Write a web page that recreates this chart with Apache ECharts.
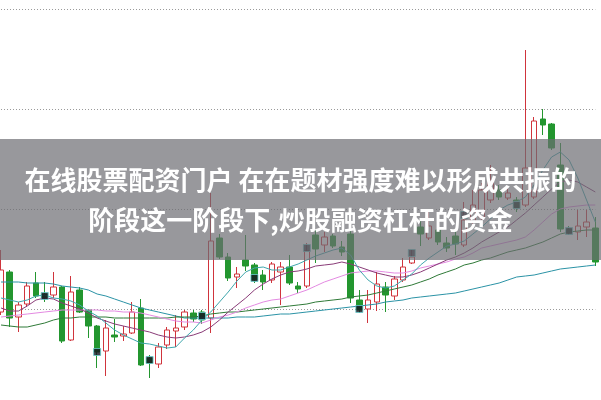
<!DOCTYPE html>
<html><head><meta charset="utf-8">
<script src="https://cdn.jsdelivr.net/npm/echarts@6/dist/echarts.min.js"></script>
<style>html,body{margin:0;padding:0;background:#fff}#c{width:601px;height:400px}</style>
</head><body><div id="c"></div>
<script>
const categories = Array.from({length: 69}, (_, i) => 'K' + (i + 1));

const opens = [4.85,6.85,4.60,5.25,6.30,5.75,5.70,6.10,3.45,5.95,
  4.95,4.15,2.90,3.70,3.65,3.80,5.05,2.55,2.25,3.20,
  3.90,4.10,4.80,4.85,4.55,8.55,7.60,6.60,7.45,7.20,
  6.70,6.45,6.85,7.10,6.15,6.15,8.70,8.20,8.65,8.10,
  8.75,5.45,5.00,5.35,6.10,5.65,6.45,7.30,9.10,8.55,
  8.95,8.30,8.65,8.20,9.35,9.60,10.45,10.95,10.55,10.45,
  10.20,10.60,14.50,14.25,12.20,9.00,8.85,9.10,9.05];
const closes = [6.95,4.55,5.20,6.15,5.65,5.55,6.10,3.40,5.85,4.85,
  4.15,2.85,4.05,3.60,3.75,4.85,2.20,2.30,3.10,3.95,
  4.05,4.85,4.50,4.45,8.40,7.60,6.55,6.75,7.15,6.45,
  6.35,7.25,7.10,6.30,6.00,7.90,8.00,8.60,8.15,7.85,
  5.55,4.95,5.45,6.25,5.70,6.50,7.10,7.60,8.75,9.15,
  8.35,8.05,8.25,9.45,10.20,10.95,11.45,10.60,10.80,10.05,
  12.05,14.40,14.20,13.05,9.00,8.80,9.15,9.35,7.35];
const lows = [4.70,4.10,3.85,5.10,5.55,5.35,5.55,3.30,3.40,4.80,
  3.55,2.05,1.65,3.35,3.40,3.75,2.15,1.55,2.05,3.00,
  3.10,3.95,4.35,4.25,3.80,7.50,6.40,6.05,6.90,6.30,
  5.95,6.30,5.20,6.20,5.80,6.05,7.30,7.85,8.05,7.65,
  5.30,4.80,4.30,4.90,4.85,5.45,6.35,7.25,8.15,8.45,
  8.20,7.85,7.70,8.10,9.15,9.45,10.30,10.45,10.45,9.85,
  10.10,10.50,13.70,12.95,8.85,8.70,8.45,8.60,7.15];
const highs = [7.95,6.95,5.35,6.35,6.85,6.35,6.85,6.15,6.65,6.10,
  5.00,4.20,4.45,4.50,4.15,5.35,5.50,2.70,3.30,4.10,
  4.70,4.95,4.95,4.95,10.80,8.75,7.80,7.10,8.70,7.30,
  6.95,7.35,7.35,7.70,6.35,8.30,8.95,8.85,8.75,8.40,
  8.95,5.95,5.95,6.85,6.35,6.65,7.55,7.95,9.45,9.85,
  9.35,8.60,9.05,10.35,10.95,11.30,12.20,11.20,11.05,10.60,
  17.95,14.60,15.00,14.30,13.30,9.15,9.95,9.95,9.60];

const ma5 = [5.55,5.45,5.35,5.45,5.65,5.70,5.55,5.50,5.40,5.20,
  4.90,4.65,4.30,3.95,3.70,3.50,3.30,3.25,3.15,3.05,
  3.10,3.55,3.95,4.45,4.85,5.35,5.85,6.40,6.85,7.05,
  7.10,6.95,6.95,7.10,7.25,7.45,7.65,7.80,7.95,8.05,
  7.70,6.95,6.45,6.15,6.05,6.15,6.45,6.75,7.20,7.55,
  7.85,8.15,8.25,8.40,8.75,9.10,9.50,9.95,10.20,10.35,
  10.60,11.20,11.95,12.60,12.85,12.45,11.55,10.45,9.35];
const ma10 = [5.05,4.90,4.90,5.15,5.45,5.55,5.50,5.30,5.15,5.00,
  4.80,4.55,4.40,4.25,4.15,4.05,3.95,3.85,3.70,3.60,
  3.55,3.60,3.70,3.85,4.10,4.45,4.85,5.20,5.55,5.95,
  6.25,6.50,6.70,6.85,6.90,7.00,7.15,7.20,7.25,7.35,
  7.25,7.10,6.95,6.80,6.70,6.60,6.60,6.70,6.85,7.05,
  7.25,7.45,7.60,7.80,8.05,8.35,8.60,8.85,9.10,9.45,
  9.80,10.20,10.60,11.00,11.35,11.45,11.35,11.10,10.85];
const ma20 = [4.60,4.65,4.70,4.75,4.80,4.85,4.90,4.95,4.95,4.95,
  4.95,4.95,4.90,4.90,4.85,4.85,4.80,4.70,4.60,4.50,
  4.40,4.35,4.35,4.30,4.45,4.60,4.70,4.85,5.05,5.20,
  5.35,5.45,5.50,5.65,5.80,5.95,6.15,6.35,6.50,6.65,
  6.80,6.85,6.90,6.90,6.85,6.80,6.80,6.90,7.05,7.15,
  7.25,7.35,7.50,7.60,7.80,8.05,8.15,8.25,8.35,8.45,
  8.60,8.95,9.35,9.75,10.00,10.10,10.15,10.20,10.20];
const ma30 = [4.20,4.15,4.10,4.10,4.20,4.30,4.45,4.55,4.55,4.60,
  4.60,4.60,4.60,4.55,4.55,4.55,4.55,4.55,4.55,4.55,
  4.60,4.60,4.60,4.65,4.75,4.80,4.85,4.85,4.90,4.95,
  5.00,5.05,5.10,5.15,5.20,5.25,5.35,5.40,5.45,5.50,
  5.60,5.65,5.70,5.80,5.90,6.00,6.10,6.20,6.35,6.50,
  6.70,6.85,7.00,7.20,7.30,7.45,7.55,7.70,7.85,7.95,
  8.05,8.20,8.35,8.55,8.75,8.85,8.90,8.95,8.95];
const ma60 = [6.35,6.35,6.35,6.30,6.30,6.30,6.25,6.15,6.10,6.05,
  5.95,5.75,5.65,5.50,5.35,5.20,5.05,4.95,4.85,4.75,
  4.65,4.55,4.55,4.55,4.55,4.55,4.55,4.60,4.60,4.60,
  4.65,4.70,4.75,4.75,4.80,4.85,4.90,4.95,5.00,5.05,
  5.10,5.15,5.20,5.25,5.35,5.40,5.45,5.55,5.60,5.65,
  5.70,5.75,5.80,5.90,6.00,6.10,6.20,6.30,6.45,6.60,
  6.65,6.70,6.80,6.90,7.00,7.05,7.10,7.15,7.20];

const markerIdx = [5,11,17,23,29,35,41,47,53,59,65];
const markerVal = [5.65,2.85,2.45,4.65,6.55,8.05,5.00,7.80,9.70,10.20,8.90];

const gridLevels = [5, 10, 15, 20];

const titleLine1 = '在线股票配资门户 在在题材强度难以形成共振的';
const titleLine2 = '阶段这一阶段下,炒股融资杠杆的资金';

const candleData = opens.map((o, i) => [o, closes[i], lows[i], highs[i]]);
const markerData = markerIdx.map((k, i) => [k, markerVal[i]]);

function maSeries(name, data, color) {
  return {name, type: 'line', data, symbol: 'none', smooth: false, z: 3,
    lineStyle: {color, width: 1}, clip: false};
}

const chart = echarts.init(document.getElementById('c'));
chart.setOption({
  animation: false,
  backgroundColor: '#ffffff',
  grid: {left: 1, right: 5.7, top: 9, bottom: 0, containLabel: false},
  xAxis: {type: 'category', data: categories, boundaryGap: false, show: false},
  yAxis: {type: 'value', min: 0.45, max: 20, show: true,
    axisLine: {show: false}, axisTick: {show: false}, axisLabel: {show: false},
    splitLine: {show: false}},
  series: [
    {type: 'candlestick', data: candleData, barWidth: 6, clip: false, z: 2,
      itemStyle: {color: '#ffffff', color0: '#23962f', borderColor: '#d0343c', borderColor0: '#23962f', borderWidth: 1},
      markLine: {silent: true, symbol: 'none', z: 1, label: {show: false},
        lineStyle: {color: '#9a9a9a', width: 1, type: [1, 2]},
        data: gridLevels.map(v => ({yAxis: v}))}},
    maSeries('MA60', ma60, '#2b93a6'),
    maSeries('MA30', ma30, '#2f7a38'),
    maSeries('MA20', ma20, '#e48ae2'),
    maSeries('MA10', ma10, '#8a3c78'),
    maSeries('MA5', ma5, '#3fa7ad'),
    {type: 'scatter', data: markerData, symbol: 'rect', symbolSize: 7, z: 4,
      itemStyle: {color: '#141420', borderColor: '#6cc', borderWidth: 1}}
  ],
  graphic: [
    {type: 'rect', z: 100, shape: {x: 0, y: 139, width: 601, height: 121},
      style: {fill: 'rgba(108,108,114,0.7)'}},
    {type: 'text', z: 101, left: 'center', top: 167,
      style: {text: titleLine1, fill: '#ffffff', font: 'bold 26px "Noto Sans CJK SC"'}},
    {type: 'text', z: 101, left: 'center', top: 207,
      style: {text: titleLine2, fill: '#ffffff', font: 'bold 26px "Noto Sans CJK SC"'}}
  ]
});
</script></body></html>
